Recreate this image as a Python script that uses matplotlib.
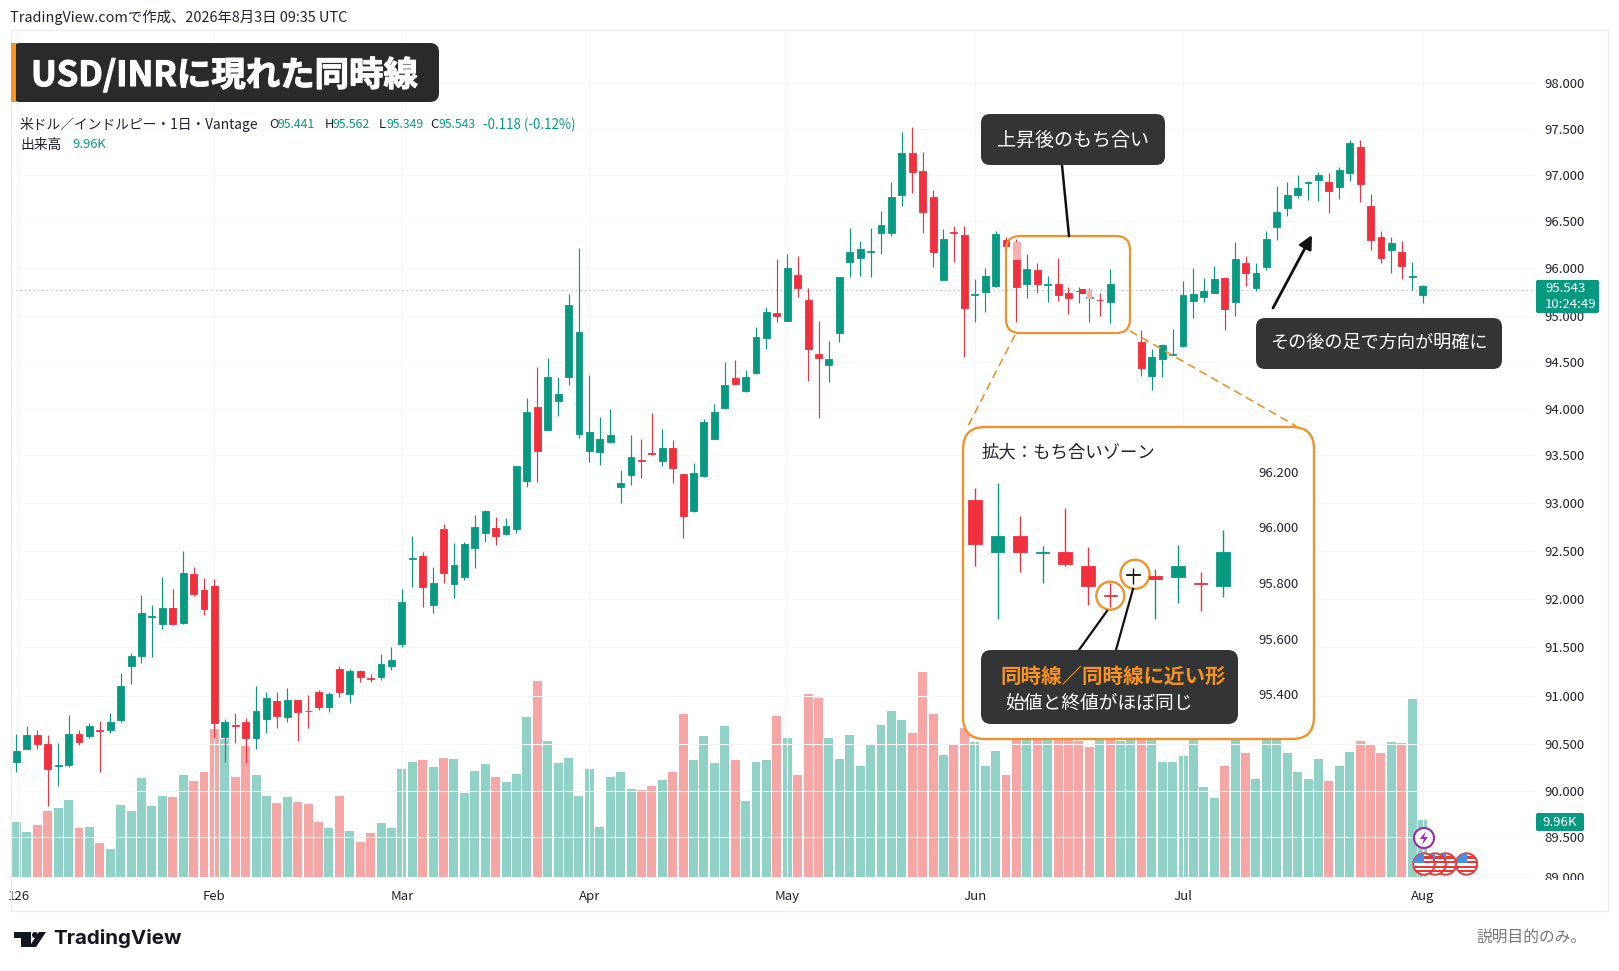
import numpy as np
import matplotlib
matplotlib.use("Agg")
import matplotlib.pyplot as plt
import matplotlib.patheffects as pe
from matplotlib.patches import Rectangle, FancyBboxPatch, Circle, Polygon

plt.rcParams['font.family'] = ['Noto Sans CJK JP', 'DejaVu Sans']

W, H = 1619, 971
nan = float('nan')

# Giá nến
opens = [90.31, 90.45, 90.59, 90.50, 90.27, 90.28, 90.61, 90.58, 90.65, 90.65,
         90.75, 91.31, 91.41, 91.81, 91.74, 91.91, 91.75, 92.26, 92.09, 92.14,
         90.57, 90.70, 90.73, 90.56, 90.76, 90.95, 90.78, 90.96, 90.85, 91.04,
         90.89, 91.28, 91.02, 91.26, 91.18, 91.20, 91.31, 91.53, 92.42, 92.45,
         91.94, 92.73, 92.16, 92.23, 92.53, 92.69, 92.74, 92.68, 92.73, 93.23,
         94.02, 93.77, 94.09, 94.34, 93.73, 93.54, 93.53, 93.64, 93.17, 93.29,
         93.45, 93.52, 93.44, 93.58, 93.30, 92.92, 93.28, 93.67, 94.01, 94.33,
         94.19, 94.38, 94.76, 95.06, 94.94, 95.85, 95.33, 94.59, 94.47, 94.81,
         96.06, 96.11, 96.17, 96.37, 96.37, 96.78, 97.24, 97.04, 96.76, 95.75,
         96.38, 96.35, 95.44, 95.50, 95.62, 96.30, 96.09, 95.66, 95.96, 95.65,
         95.66, 95.48, 95.51, 95.37, 95.33, 95.29, nan, nan, 94.72, 94.35,
         94.53, 94.58, 94.67, 95.31, 95.39, 95.48, 95.79, 95.29, 96.05, 95.58,
         96.01, 96.44, 96.64, 96.78, 96.91, 96.95, 96.92, 96.87, 97.02, 97.30,
         96.66, 96.33, 96.19, 96.17, 95.82, 95.43]
highs = [90.61, 90.69, 90.65, 90.60, 90.51, 90.80, 90.65, 90.72, 90.74, 90.82,
         91.24, 91.44, 92.04, 91.94, 92.23, 92.11, 92.50, 92.33, 92.22, 92.21,
         90.76, 90.82, 90.77, 91.10, 91.04, 91.04, 91.08, 90.96, 91.01, 91.06,
         91.04, 91.31, 91.28, 91.27, 91.23, 91.43, 91.50, 92.11, 92.66, 92.49,
         92.33, 92.78, 92.58, 92.59, 92.88, 92.93, 92.85, 92.84, 93.39, 94.12,
         94.45, 94.54, 94.34, 95.45, 96.21, 94.36, 93.91, 94.00, 93.34, 93.72,
         93.67, 93.96, 93.78, 93.66, 93.30, 93.42, 93.89, 94.05, 94.50, 94.52,
         94.41, 94.88, 95.18, 96.10, 96.15, 96.13, 95.58, 94.94, 94.73, 95.81,
         96.43, 96.29, 96.43, 96.61, 96.92, 97.47, 97.52, 97.25, 96.84, 96.41,
         96.45, 96.45, 95.77, 96.00, 96.39, 96.33, 96.31, 96.15, 96.05, 95.83,
         96.11, 95.60, 95.60, 95.58, 95.48, 95.98, nan, nan, 94.84, 94.64,
         94.69, 94.86, 95.73, 96.00, 95.79, 96.02, 95.81, 96.28, 96.13, 96.05,
         96.39, 96.88, 96.92, 97.00, 96.93, 97.03, 97.02, 97.09, 97.38, 97.38,
         96.79, 96.39, 96.33, 96.29, 96.06, 95.64]
lows = [90.20, 90.45, 90.45, 89.84, 90.05, 90.26, 90.49, 90.56, 90.20, 90.62,
        90.73, 91.12, 91.34, 91.40, 91.69, 91.73, 91.74, 92.03, 91.83, 90.56,
        90.31, 90.51, 90.30, 90.45, 90.62, 90.67, 90.73, 90.53, 90.67, 90.86,
        90.83, 90.99, 90.93, 91.14, 91.14, 91.16, 91.27, 91.50, 92.13, 91.92,
        91.86, 92.17, 92.01, 92.20, 92.32, 92.59, 92.56, 92.67, 92.69, 93.17,
        93.22, 93.77, 93.92, 94.26, 93.69, 93.43, 93.40, 93.63, 93.00, 93.19,
        93.26, 93.50, 93.39, 93.21, 92.64, 92.91, 93.27, 93.67, 94.00, 94.26,
        94.18, 94.37, 94.64, 94.93, 94.94, 95.39, 94.30, 93.90, 94.29, 94.72,
        95.81, 95.83, 95.81, 96.15, 96.34, 96.66, 96.80, 96.37, 96.01, 95.75,
        96.06, 94.55, 94.93, 95.08, 95.60, 96.22, 94.93, 95.37, 95.48, 95.29,
        95.31, 95.04, 95.27, 94.93, 95.00, 94.92, nan, nan, 94.35, 94.20,
        94.34, 94.58, 94.66, 94.97, 95.29, 95.48, 94.84, 95.00, 95.62, 95.52,
        95.96, 96.30, 96.55, 96.75, 96.73, 96.72, 96.59, 96.74, 96.93, 96.71,
        96.19, 96.05, 95.90, 95.77, 95.54, 95.27]
closes = [90.43, 90.60, 90.50, 90.24, 90.28, 90.61, 90.52, 90.69, 90.64, 90.73,
          91.10, 91.41, 91.86, 91.82, 91.91, 91.74, 92.27, 92.05, 91.90, 90.72,
          90.73, 90.69, 90.56, 90.84, 90.98, 90.79, 90.96, 90.83, 90.84, 90.89,
          91.02, 91.04, 91.26, 91.19, 91.17, 91.33, 91.37, 91.97, 92.43, 92.13,
          92.17, 92.27, 92.35, 92.57, 92.75, 92.92, 92.66, 92.76, 93.39, 93.97,
          93.54, 94.34, 94.16, 95.22, 94.82, 93.75, 93.67, 93.72, 93.21, 93.48,
          93.44, 93.51, 93.58, 93.36, 92.86, 93.31, 93.86, 93.97, 94.26, 94.27,
          94.34, 94.77, 95.08, 95.00, 96.00, 95.58, 94.64, 94.54, 94.53, 95.81,
          96.17, 96.20, 96.18, 96.46, 96.76, 97.24, 97.03, 96.60, 96.17, 96.31,
          96.37, 95.16, 95.45, 95.83, 96.36, 96.23, 95.60, 95.98, 95.66, 95.66,
          95.43, 95.37, 95.52, 95.39, 95.32, 95.66, nan, nan, 94.44, 94.55,
          94.68, 94.59, 95.43, 95.45, 95.52, 95.77, 95.14, 96.10, 95.90, 95.90,
          96.31, 96.60, 96.78, 96.86, 96.92, 97.00, 96.82, 97.05, 97.35, 96.90,
          96.30, 96.11, 96.26, 96.02, 95.83, 95.62]

# Khối lượng (K)
volumes = [9.6, 7.8, 9.1, 11.4, 11.9, 13.3, 8.6, 8.7, 5.9, 5.0,
           12.5, 11.5, 17.1, 12.3, 14.1, 13.9, 17.6, 16.5, 18.1, 25.4,
           23.7, 17.2, 22.6, 17.6, 14.1, 12.9, 13.9, 13.0, 12.6, 9.6,
           8.5, 14.0, 8.1, 6.1, 7.7, 9.4, 8.5, 18.6, 19.8, 20.1,
           19.0, 20.6, 20.3, 14.5, 18.3, 19.5, 17.3, 16.4, 17.7, 27.5,
           33.7, 23.4, 19.7, 20.5, 14.0, 18.6, 8.8, 17.3, 18.1, 15.3,
           15.1, 15.7, 16.8, 18.2, 28.0, 20.1, 24.3, 19.7, 25.9, 20.1,
           13.1, 19.8, 20.2, 27.7, 23.9, 17.6, 31.5, 30.8, 23.9, 20.3,
           24.4, 19.1, 22.8, 26.2, 28.5, 27.0, 24.8, 35.3, 28.1, 21.1,
           22.9, 25.6, 23.2, 19.1, 21.7, 17.6, 24.5, 25.0, 26.5, 24.0,
           25.5, 24.8, 23.5, 22.4, 24.0, 24.5, 23.5, 24.2, 25.0, 24.0,
           19.8, 19.8, 20.9, 24.5, 15.5, 13.6, 19.1, 25.0, 21.3, 17.0,
           24.5, 24.0, 21.3, 18.1, 17.0, 20.4, 16.5, 19.1, 21.6, 23.5,
           22.9, 21.4, 23.2, 23.0, 30.6, 9.96]
vol_red = [2, 3, 6, 8, 15, 17, 18, 19, 21, 22, 25, 27, 28, 29, 31, 33, 34, 39, 41, 46,
           50, 60, 61, 63, 64, 69, 73, 75, 76, 77, 86, 87, 88, 90, 91, 95, 96, 98, 100,
           101, 102, 103, 105, 108, 116, 118, 126, 129, 130, 131, 133]

# Trục giá
tick_prices = [98, 97.5, 97, 96.5, 96, 95, 94.5, 94, 93.5, 93, 92.5, 92, 91.5, 91, 90.5, 90, 89.5, 89]
tick_px = [83.6, 129.3, 175, 221, 268, 315.7, 362, 409, 455, 503, 551, 599, 647, 696, 744, 791, 837, 877]
month_labels = ['126', 'Feb', 'Mar', 'Apr', 'May', 'Jun', 'Jul', 'Aug']
month_pos = [0.2, 19, 37, 55, 74, 92, 112, 135]
last_price = 95.543

# Khung phóng to
ins_open = [96.10, 95.91, 95.97, 95.909, 95.91, 95.86, 95.757, 95.83, 95.824, 95.82, 95.80, 95.79]
ins_high = [96.14, 96.16, 96.04, 95.934, 96.07, 95.93, 95.80, 95.855, 95.85, 95.935, 95.84, 95.99]
ins_low = [95.86, 95.67, 95.84, 95.80, 95.86, 95.72, 95.714, 95.795, 95.67, 95.73, 95.70, 95.75]
ins_close = [95.94, 95.97, 95.91, 95.913, 95.87, 95.79, 95.755, 95.832, 95.814, 95.86, 95.798, 95.91]
ins_body = ['r', 'g', 'r', 'g', 'r', 'r', 'r', 'k', 'r', 'g', 'r', 'g']
ins_wick = ['r', 'g', 'r', 'g', 'r', 'r', 'r', 'k', 'g', 'g', 'r', 'g']
ins_ticks = [96.2, 96.0, 95.8, 95.6, 95.4]

RED = '#f0303c'
GREEN = '#089981'
VOL_RED = '#f6a6a4'
VOL_GREEN = '#90d2c5'
ORANGE = '#f0922b'
DARK = '#333435'
TEXT = '#1e222d'
COLS = {'r': RED, 'g': GREEN, 'k': '#111111'}

# Mốc của thang giá, thêm hai đầu để không bị kẹp ở 98 và 89
scale_prices = np.array([88.5] + tick_prices[::-1] + [99.0])
scale_px = -np.array([917.0] + tick_px[::-1] + [-8.4])


def px_axes(x0, y0, x1, y1, **kw):
    return fig.add_axes([x0 / W, 1 - y1 / H, (x1 - x0) / W, (y1 - y0) / H], **kw)


def forward(p):
    return np.interp(p, scale_prices, scale_px)


def inverse(t):
    return np.interp(t, scale_px, scale_prices)


def box(x0, y0, x1, y1, r, fc, ec='none', lw=0, z=3):
    p = FancyBboxPatch((x0, y0), x1 - x0, y1 - y0, boxstyle='round,pad=0,rounding_size=%g' % r,
                       fc=fc, ec=ec, lw=lw, zorder=z)
    over.add_patch(p)
    return p


fig = plt.figure(figsize=(W / 100, H / 100), dpi=100, facecolor='white')

x = np.arange(len(opens))
o = np.array(opens)
hi = np.array(highs)
lo = np.array(lows)
c = np.array(closes)
candle_cols = [RED if cl < op else GREEN for op, cl in zip(opens, closes)]

# Cột khối lượng nằm dưới nến
ax_vol = px_axes(11, 31, 1535, 878, zorder=1)
ax_vol.set_xlim(-0.528, 145.79)
ax_vol.set_ylim(0, 144.8)
ax_vol.bar(x, volumes, width=0.86, color=[VOL_RED if i in vol_red else VOL_GREEN for i in x], linewidth=0)
ax_vol.axis('off')

# Nến và trục giá
ax = px_axes(11, 31, 1535, 878, zorder=2, facecolor='none')
ax.set_yscale('function', functions=(forward, inverse))
ax.set_xlim(-0.528, 145.79)
ax.set_ylim(88.99, 98.57)
ax.vlines(x, lo, hi, colors=candle_cols, linewidth=0.85, zorder=3)
ax.bar(x, np.abs(c - o), bottom=np.minimum(o, c), width=0.66, color=candle_cols,
       edgecolor=candle_cols, linewidth=0.6, zorder=4)
ax.axhline(last_price, color='#a8b0b2', linewidth=0.8, linestyle=(0, (1, 3)), zorder=2)
ax.set_yticks(tick_prices)
ax.set_yticklabels(['%.3f' % t for t in tick_prices])
ax.set_xticks(month_pos)
ax.set_xticklabels(month_labels)
ax.yaxis.tick_right()
ax.tick_params(axis='y', length=0, pad=6.5, labelsize=9.5, labelcolor=TEXT)
ax.tick_params(axis='x', length=0, pad=8.5, labelsize=9.5, labelcolor=TEXT)
ax.minorticks_off()
ax.grid(True, color='#f6f6f6', linewidth=0.8, zorder=0)
for s in ax.spines.values():
    s.set_visible(False)

# Lớp vẽ theo pixel cho chú thích
over = px_axes(0, 0, W, H, zorder=3, facecolor='none')
over.set_xlim(0, W)
over.set_ylim(H, 0)
over.axis('off')

over.add_patch(Rectangle((11, 30), 1597, 881, fc='none', ec='#ececec', lw=1))
over.add_patch(Rectangle((1535, 880.5), 70, 8, fc='white', ec='none', zorder=2))

over.text(10, 17, 'TradingView.comで作成、2026年8月3日 09:35 UTC', fontsize=10.4, color=TEXT, va='center')

# Tiêu đề
box(11, 43, 439, 102, 9, '#2a2a2b')
over.add_patch(Rectangle((11, 43), 5, 59, fc='#f7931e', ec='none', zorder=4))
tt = over.text(31, 75, 'USD/INRに現れた同時線', fontsize=24.8, fontweight='bold', color='white', va='center', zorder=5)
tt.set_path_effects([pe.withStroke(linewidth=0.8, foreground='white')])

# Dòng OHLC
over.text(20, 124.5, '米ドル／インドルピー・1日・Vantage', fontsize=9.9, color=TEXT, va='center')
for lx, lab, vx, val in [(269, 'O', 277.5, '95.441'), (324.5, 'H', 332.5, '95.562'),
                         (379, 'L', 386, '95.349'), (430, 'C', 438, '95.543')]:
    over.text(lx, 124.5, lab, fontsize=9.3, color=TEXT, va='center')
    over.text(vx, 124.5, val, fontsize=8.8, color=GREEN, va='center')
over.text(483, 124.5, '-0.118 (-0.12%)', fontsize=9.6, color=GREEN, va='center')
over.text(20, 145, '出来高', fontsize=9.9, color=TEXT, va='center')
over.text(72, 145, '9.96K', fontsize=9.3, color=GREEN, va='center')

# Vùng tích luỹ và đường nối
over.add_patch(Rectangle((1013, 242), 8, 18, fc='#f7b0b0', ec='none', zorder=2))
over.add_patch(Rectangle((1080, 289), 6, 5, fc=RED, ec='none', zorder=2))
over.add_patch(Rectangle((1087, 290), 5, 9, fc='#f7b0b0', ec='none', zorder=2))
box(1006, 236, 1130, 333, 14, 'none', ORANGE, 1.6)
over.plot([1015, 967], [335, 428], color=ORANGE, lw=1.2, ls=(0, (5, 3)), zorder=3)
over.plot([1130, 1296], [331, 426], color=ORANGE, lw=1.2, ls=(0, (5, 3)), zorder=3)

box(981, 114, 1165, 165, 9, DARK, z=4)
over.text(1073, 140, '上昇後のもち合い', fontsize=13.7, color='white', ha='center', va='center', zorder=5)
over.plot([1062, 1069], [165, 236], color='#111111', lw=1.8, zorder=3)

box(1256, 318, 1502, 369, 9, DARK, z=4)
over.text(1379, 343, 'その後の足で方向が明確に', fontsize=13.1, color='white', ha='center', va='center', zorder=5)
over.annotate('', xy=(1312, 235), xytext=(1273, 308),
              arrowprops=dict(arrowstyle='-|>', lw=2.0, color='#111111', mutation_scale=20, shrinkA=0, shrinkB=0))

# Khung phóng to
box(963, 427, 1314, 739, 22, 'white', ORANGE, 1.7, z=4)
over.text(982, 452, '拡大：もち合いゾーン', fontsize=12.5, color=TEXT, va='center', zorder=5)
over.add_patch(Circle((1110.3, 595.7), 14, fc='white', ec=ORANGE, lw=1.7, zorder=5))
over.add_patch(Circle((1135, 574.3), 14.5, fc='white', ec=ORANGE, lw=1.7, zorder=5))
over.plot([1107, 1079], [611, 650], color='#111111', lw=1.6, zorder=5)
over.plot([1133, 1116], [589, 650], color='#111111', lw=1.6, zorder=5)
box(981, 650, 1238, 724, 10, DARK, z=5)
over.text(1000, 676, '同時線／同時線に近い形', fontsize=14.8, fontweight='bold', color='#f7931e', va='center', zorder=6)
over.text(1005, 704, '始値と終値がほぼ同じ', fontsize=13.5, color='white', va='center', zorder=6)

ax_in = px_axes(963, 440, 1250, 720, zorder=4, facecolor='none')
ax_in.set_xlim(-0.53, 12.19)
ax_in.set_ylim(95.308, 96.314)
xi = np.arange(len(ins_open))
ax_in.vlines(xi, ins_low, ins_high, colors=[COLS[k] for k in ins_wick], linewidth=1.0, zorder=3)
ax_in.bar(xi, np.abs(np.array(ins_close) - np.array(ins_open)),
          bottom=np.minimum(ins_open, ins_close), width=0.6, color=[COLS[k] for k in ins_body],
          edgecolor=[COLS[k] for k in ins_body], linewidth=0.6, zorder=4)
ax_in.set_xticks([])
ax_in.set_yticks(ins_ticks)
ax_in.set_yticklabels(['%.3f' % t for t in ins_ticks])
ax_in.yaxis.tick_right()
ax_in.tick_params(axis='y', length=0, pad=5.8, labelsize=9.5, labelcolor=TEXT)
for s in ax_in.spines.values():
    s.set_visible(False)

# Nhãn giá bên phải
over.add_patch(FancyBboxPatch((1536, 280), 63, 33, boxstyle='round,pad=0,rounding_size=2', fc=GREEN, ec='none', zorder=5))
over.text(1545, 289, '95.543', fontsize=9.5, color='white', va='center', zorder=6)
over.text(1545, 304, '10:24:49', fontsize=9.5, color='white', va='center', zorder=6)
over.add_patch(FancyBboxPatch((1536, 813), 48, 18, boxstyle='round,pad=0,rounding_size=2', fc=GREEN, ec='none', zorder=5))
over.text(1560, 822, '9.96K', fontsize=9.5, color='white', ha='center', va='center', zorder=6)

# Biểu tượng sự kiện
over.add_patch(Circle((1424, 838), 10, fc='white', ec='#9c27b0', lw=1.5, zorder=5))
bolt = np.array([[2, -7], [-4, 1], [0, 1], [-2, 7], [4, -1], [0, -1]]) + [1424, 838]
over.add_patch(Polygon(bolt, closed=True, fc='#9c27b0', ec='none', zorder=6))
for i, fx in enumerate([1466.5, 1445.5, 1435, 1424]):
    z = 5 + i * 0.1
    ring = Circle((fx, 864), 10.7, fc='white', ec='#e53935', lw=1.4, zorder=z)
    over.add_patch(ring)
    for k in range(4):
        st = Rectangle((fx - 11, 856.5 + k * 4.6), 22, 2.2, fc='#e53935', ec='none', zorder=z + 0.01)
        over.add_patch(st)
        st.set_clip_path(ring)
    canton = Rectangle((fx - 11, 853), 11, 10, fc='#4a90e2', ec='none', zorder=z + 0.02)
    over.add_patch(canton)
    canton.set_clip_path(ring)

# Chân trang
over.add_patch(Polygon([(14, 932), (31, 932), (31, 947), (21, 947), (21, 938), (14, 938)], closed=True, fc='#131722', ec='none'))
over.add_patch(Circle((35, 935), 3, fc='#131722', ec='none'))
over.add_patch(Polygon([(39, 932), (46, 932), (36, 947), (29, 947)], closed=True, fc='#131722', ec='none'))
over.text(53, 938.5, 'TradingView', family=['Inter', 'DejaVu Sans'], fontsize=14.8, fontweight='bold', color='#131722', va='center')
over.text(1587, 937, '説明目的のみ。', fontsize=11.3, color='#777777', style='italic', ha='right', va='center')

fig.savefig('out.png', dpi=100)
